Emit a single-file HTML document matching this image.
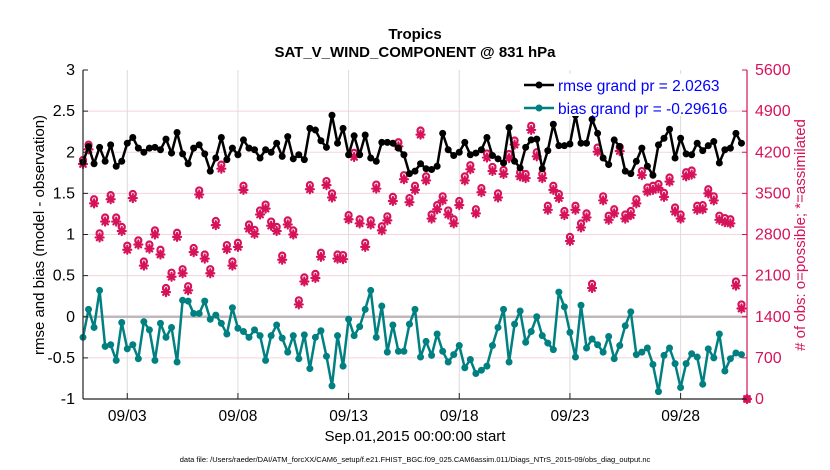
<!DOCTYPE html>
<html><head><meta charset="utf-8">
<style>
body{margin:0;background:#fff;}
svg{display:block;font-family:"Liberation Sans",sans-serif;}
</style></head>
<body>
<svg id="chart" width="830" height="470" viewBox="0 0 830 470" xmlns="http://www.w3.org/2000/svg">
<rect width="830" height="470" fill="#fff"/>
<g id="grid"></g>
<g id="marks"></g>
<g id="axes"></g>
<text x="415" y="39" text-anchor="middle" font-size="15" font-weight="bold">Tropics</text>
<text x="415" y="57" text-anchor="middle" font-size="15" font-weight="bold">SAT_V_WIND_COMPONENT @ 831 hPa</text>
<text transform="translate(44,235) rotate(-90)" text-anchor="middle" font-size="15">rmse and bias (model - observation)</text>
<text transform="translate(805,235) rotate(-90)" text-anchor="middle" font-size="15" fill="#d6135a"># of obs: o=possible; *=assimilated</text>
<text x="415" y="441" text-anchor="middle" font-size="15">Sep.01,2015 00:00:00 start</text>
<text x="415" y="462" text-anchor="middle" font-size="7.5">data file: /Users/raeder/DAI/ATM_forcXX/CAM6_setup/f.e21.FHIST_BGC.f09_025.CAM6assim.011/Diags_NTrS_2015-09/obs_diag_output.nc</text>
<g>
  <rect x="520" y="74" width="200" height="42" fill="#fff"/>
  <line x1="524" y1="85" x2="554" y2="85" stroke="#000" stroke-width="2.5"/>
  <circle cx="539" cy="85" r="3.5" fill="#000"/>
  <text x="558" y="91" font-size="15.5" fill="#0000ff">rmse grand pr = 2.0263</text>
  <line x1="524" y1="108" x2="554" y2="108" stroke="#008080" stroke-width="2.5"/>
  <circle cx="539" cy="108" r="3.5" fill="#008080"/>
  <text x="558" y="114" font-size="15.5" fill="#0000ff">bias grand pr = -0.29616</text>
</g>
</svg>
<script>
const rmse = [1.88,2.07,1.86,2.06,1.89,2.09,1.83,1.89,2.11,2.18,2.05,2.0,2.05,2.06,2.03,2.16,1.99,2.24,1.98,1.86,
2.05,2.09,1.98,1.77,1.93,2.18,1.91,2.05,1.97,2.15,2.05,2.03,1.93,2.03,2.0,2.11,1.95,2.19,1.92,1.97,
1.91,2.29,2.27,2.14,2.06,2.45,2.11,2.29,1.97,2.2,1.97,2.21,1.93,1.89,2.12,2.12,2.11,2.05,1.97,1.74,
1.77,1.86,1.8,1.79,1.83,2.23,2.03,1.96,2.0,2.12,1.97,1.99,2.03,2.18,1.96,1.92,1.87,2.3,1.89,1.81,
2.06,2.15,2.16,1.8,2.02,2.34,2.08,2.08,2.1,2.45,2.11,2.11,2.4,2.23,1.93,1.85,2.15,2.07,1.77,1.74,
1.89,2.05,1.83,1.72,2.09,2.17,2.28,1.93,2.17,1.98,1.97,2.11,2.02,2.08,2.13,1.87,2.03,2.05,2.23,2.11];
const bias = [-0.25,0.09,-0.13,0.32,-0.36,-0.34,-0.53,-0.07,-0.39,-0.34,-0.51,-0.06,-0.16,-0.53,-0.08,-0.25,-0.13,-0.55,0.2,0.19,
0.04,0.04,0.19,-0.03,0.02,-0.08,-0.21,0.11,-0.14,-0.18,-0.25,-0.16,-0.23,-0.53,-0.23,-0.10,-0.26,-0.43,-0.23,-0.51,
-0.22,-0.63,-0.25,-0.17,-0.48,-0.84,-0.23,-0.6,-0.03,-0.23,-0.12,0.09,0.32,-0.25,0.13,-0.43,-0.10,-0.42,-0.42,-0.09,
0.09,-0.49,-0.3,-0.47,-0.21,-0.42,-0.55,-0.46,-0.35,-0.62,-0.52,-0.69,-0.65,-0.6,-0.35,-0.13,0.09,-0.55,-0.09,0.07,
-0.31,-0.18,0.0,-0.23,-0.32,-0.4,0.3,0.12,-0.19,-0.49,0.14,-0.38,-0.27,-0.34,-0.43,-0.24,-0.51,-0.35,-0.11,0.06,
-0.46,-0.43,-0.38,-0.58,-0.91,-0.47,-0.38,-0.57,-0.86,-0.57,-0.45,-0.49,-0.82,-0.39,-0.5,-0.21,-0.66,-0.51,-0.44,-0.46];
const obsAssim = [4000,4250,3330,2750,3020,3400,3020,2860,2540,3420,2630,2270,2560,2800,2460,1820,2080,2760,2140,1850,
2500,3480,2390,2140,2960,3920,2550,2270,2590,3560,2900,2810,3140,3240,2950,2860,2370,2970,2800,1610,
2000,3570,2060,2420,3640,3430,2390,2380,3060,4120,2990,2590,2970,3580,2870,3040,3370,4300,3740,3350,
3560,4500,3720,3070,3230,3380,3140,2990,3300,3720,3910,3160,3520,4110,3880,3430,3830,4100,4330,3790,
3760,4580,4130,3760,3220,3560,3420,3130,2690,3220,2920,3090,1890,4210,3380,3050,3160,4220,3070,3130,
3330,3810,3530,3560,3590,3440,3700,3190,3070,3790,3820,3220,3230,3500,3380,3050,3010,2990,1930,1540,0];
const obsPossible = [4070,4330,3400,2820,3090,3470,3090,2930,2610,3490,2700,2340,2630,2870,2540,1890,2150,2830,2210,1920,
2570,3550,2460,2210,3030,3990,2620,2340,2660,3630,2970,2880,3210,3310,3020,2930,2440,3040,2870,1680,
2070,3640,2130,2490,3710,3500,2460,2450,3130,4190,3060,2660,3040,3650,2940,3110,3440,4370,3810,3420,
3630,4570,3790,3140,3300,3450,3210,3060,3370,3790,3980,3230,3590,4180,3950,3500,3900,4170,4400,3860,
3830,4650,4200,3830,3290,3630,3490,3200,2760,3290,2990,3160,1960,4280,3450,3120,3230,4290,3140,3200,
3400,3880,3600,3630,3660,3510,3770,3260,3140,3860,3890,3290,3300,3570,3450,3120,3080,3060,2000,1610,0];
const leftTicks = [-1,-0.5,0,0.5,1,1.5,2,2.5,3];
const leftTickLabels = ["-1","-0.5","0","0.5","1","1.5","2","2.5","3"];
const rightTicks = [0,700,1400,2100,2800,3500,4200,4900,5600];
const dateTickDays = [2,7,12,17,22,27];
const dateTickLabels = ["09/03","09/08","09/13","09/18","09/23","09/28"];

const NS="http://www.w3.org/2000/svg";
const X0=83,X1=747,Y0=399,Y1=70,DAYS=30;
function xs(d){return X0+(X1-X0)*d/DAYS;}
function yl(v){return Y0-(v+1)/4*(Y0-Y1);}
function yr(v){return Y0-v/5600*(Y0-Y1);}
function mk(tag,attrs,parent){const e=document.createElementNS(NS,tag);for(const k in attrs)e.setAttribute(k,attrs[k]);parent.appendChild(e);return e;}
const grid=document.getElementById('grid'),marks=document.getElementById('marks'),axes=document.getElementById('axes');

leftTicks.forEach((v,i)=>{
  if(v!==0&&v!==-1&&v!==3){const g=mk('line',{x1:X0,x2:X1,y1:yl(v),y2:yl(v),stroke:'#f5d3df','stroke-width':1},grid);
  
  }
  const t=mk('text',{x:X0-8,y:yl(v)+5,'text-anchor':'end','font-size':16},axes);t.textContent=leftTickLabels[i];
  
  
  mk('line',{x1:X0,x2:X0+5,y1:yl(v),y2:yl(v),stroke:'#222'},axes);
});
rightTicks.forEach(v=>{
  const t=mk('text',{x:X1+8,y:yr(v)+5,'font-size':16,fill:'#d6135a'},axes);t.textContent=String(v);
  
  
  mk('line',{x1:X1-5,x2:X1,y1:yr(v),y2:yr(v),stroke:'#d6135a'},axes);
});
dateTickDays.forEach((d,i)=>{
  const g=mk('line',{x1:xs(d),x2:xs(d),y1:Y1,y2:Y0,stroke:'#dcdcdc','stroke-width':1},grid);
  
  
  mk('line',{x1:xs(d),x2:xs(d),y1:Y0,y2:Y0-6,stroke:'#222'},axes);
  const t=mk('text',{x:xs(d),y:421,'text-anchor':'middle','font-size':15.5},axes);t.textContent=dateTickLabels[i];
  
  
});
const zl=mk('line',{x1:X0,x2:X1,y1:yl(0),y2:yl(0),stroke:'#c0b8bc','stroke-width':2.5},grid);



function star(cx,cy,col){
  const g=mk('g',{stroke:col,'stroke-width':2.2,'stroke-linecap':'round'},marks);
  
  
  for(let k=0;k<4;k++){const a=k*Math.PI/4,r=4;mk('line',{x1:cx-r*Math.cos(a),y1:cy-r*Math.sin(a),x2:cx+r*Math.cos(a),y2:cy+r*Math.sin(a)},g);}
  mk('circle',{cx:cx,cy:cy,r:2,fill:col,stroke:'none'},g);
}
obsPossible.forEach((v,i)=>{
  const c=mk('circle',{cx:xs(i*0.25),cy:yr(v),r:3,fill:'none',stroke:'#d6135a','stroke-width':2.2},marks);
  
  
});
obsAssim.forEach((v,i)=>{star(xs(i*0.25),yr(v),'#d6135a');});

function series(arr,col,name){
  const p=mk('polyline',{points:arr.map((v,i)=>xs(i*0.25)+','+yl(v)).join(' '),fill:'none',stroke:col,'stroke-width':2.5,'stroke-linejoin':'round'},marks);
  
  
  arr.forEach((v,i)=>{
    const c=mk('circle',{cx:xs(i*0.25),cy:yl(v),r:3.5,fill:col},marks);
    
    
  });
}
series(bias,'#008080','bias');
series(rmse,'#000000','rmse');

const la=mk('line',{x1:X0,x2:X0,y1:Y1,y2:Y0,stroke:'#222','stroke-width':1.2},axes);


const ba=mk('line',{x1:X0,x2:X1,y1:Y0,y2:Y0,stroke:'#222','stroke-width':1.2},axes);


const ra=mk('line',{x1:X1,x2:X1,y1:Y1,y2:Y0,stroke:'#d6135a','stroke-width':1.2},axes);


</script>
</body></html>
